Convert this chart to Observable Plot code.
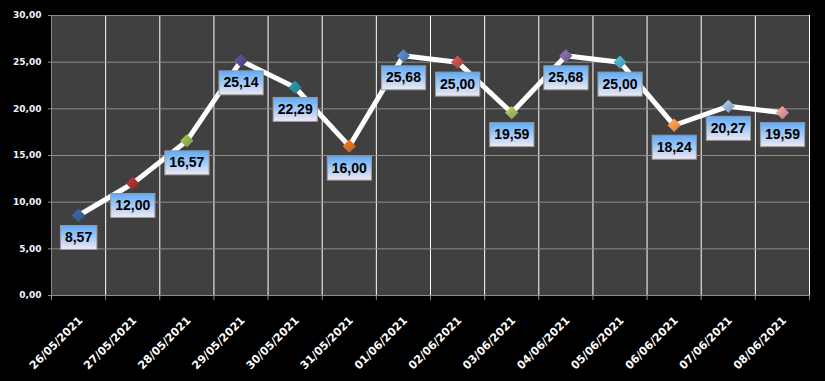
<!DOCTYPE html>
<html><head><meta charset="utf-8">
<script src="https://cdn.jsdelivr.net/npm/d3@7"></script>
<script src="https://cdn.jsdelivr.net/npm/@observablehq/plot@0.6"></script>
<style>
html,body{margin:0;padding:0;background:#000;}
#chart{width:825px;height:381px;overflow:hidden;}
</style></head><body><div id="chart"></div>
<script>
const dates = ["26/05/2021","27/05/2021","28/05/2021","29/05/2021","30/05/2021","31/05/2021","01/06/2021","02/06/2021","03/06/2021","04/06/2021","05/06/2021","06/06/2021","07/06/2021","08/06/2021"];
const values = [8.57, 12.00, 16.57, 25.14, 22.29, 16.00, 25.68, 25.00, 19.59, 25.68, 25.00, 18.24, 20.27, 19.59];
const markerColors = ["#34619e","#a3302c","#8fb04c","#5e4889","#2c8aa3","#e0701e","#4f81bd","#c0504d","#9bbb59","#8064a2","#4bacc6","#f79646","#95b3d7","#d99694"];
const yTicks = [0, 5, 10, 15, 20, 25, 30];

const fmt = v => v.toFixed(2).replace(".", ",");
const data = dates.map((d, i) => ({date: d, i: i + 0.5, value: values[i], color: markerColors[i], label: fmt(values[i])}));

const plot = Plot.plot({
  width: 825, height: 381,
  marginLeft: 51, marginRight: 16, marginTop: 15, marginBottom: 86,
  style: {background: "#000", overflow: "visible"},
  x: {type: "linear", domain: [0, dates.length], axis: null, label: null},
  y: {domain: [0, 30], axis: null, label: null},
  color: {type: "identity"},
  marks: [
    Plot.frame({fill: "#404040"}),
    Plot.ruleX(d3.range(1, dates.length + 1), {stroke: "#ffffff", strokeWidth: 1}),
    Plot.ruleY(yTicks, {stroke: "#8c8c8c"}),
    Plot.ruleX([0], {stroke: "#8c8c8c"}),
    Plot.axisY({ticks: yTicks, tickFormat: fmt, label: null, tickSize: 3, tickPadding: 7, stroke: "#8c8c8c", fill: "#eef4ff", fontSize: 9, fontWeight: "bold", fontFamily: "DejaVu Sans"}),
    Plot.axisX({ticks: d3.range(0, dates.length + 1), tickFormat: () => "", label: null, tickSize: 5, stroke: "#8c8c8c"}),
    Plot.axisX({ticks: data.map(d => d.i), tickFormat: v => dates[Math.floor(v)], label: null, tickSize: 0, tickPadding: 23, dx: 2, tickRotate: -45, fill: "#ffffff", fontSize: 11, fontWeight: "bold", fontFamily: "DejaVu Sans"}),
    Plot.line(data, {x: "i", y: "value", stroke: "#ffffff", strokeWidth: 5, strokeLinejoin: "miter"}),
    Plot.dot(data, {x: "i", y: "value", symbol: "diamond2", r: 6, fill: d => d.color, stroke: "none"}),
    Plot.text(data, {x: "i", y: "value", text: "label", dy: 22, fill: "#000", fontSize: 14, fontWeight: "bold", fontFamily: "Liberation Sans"})
  ]
});
document.getElementById("chart").append(plot);

const svg = d3.select(plot);
const defs = svg.insert("defs", ":first-child");
// label box gradient
const grad = defs.append("linearGradient").attr("id", "lblgrad").attr("x1", 0).attr("y1", 0).attr("x2", 0).attr("y2", 1);
grad.append("stop").attr("offset", "0%").attr("stop-color", "#5eabf8");
grad.append("stop").attr("offset", "55%").attr("stop-color", "#a9cdf6");
grad.append("stop").attr("offset", "100%").attr("stop-color", "#f1e9f5");

// shaded markers
svg.selectAll('g[aria-label="dot"] path').each(function(_, k) {
  const c = d3.color(this.getAttribute("fill"));
  if (!c) return;
  const id = "mk" + k;
  const g = defs.append("linearGradient").attr("id", id).attr("x1", 0).attr("y1", 0).attr("x2", 1).attr("y2", 1);
  g.append("stop").attr("offset", "0%").attr("stop-color", c.brighter(0.5).formatHex());
  g.append("stop").attr("offset", "50%").attr("stop-color", c.formatHex());
  g.append("stop").attr("offset", "100%").attr("stop-color", c.darker(0.5).formatHex());
  this.setAttribute("fill", `url(#${id})`);
});

// boxes behind data labels
svg.selectAll('g[aria-label="text"] text').each(function() {
  const b = this.getBBox();
  const cx = b.x + b.width / 2, cy = b.y + b.height / 2;
  const w = b.width + 9, h = 24;
  const r = document.createElementNS("http://www.w3.org/2000/svg", "rect");
  r.setAttribute("x", cx - w / 2);
  r.setAttribute("y", cy - h / 2 + 0.5);
  r.setAttribute("width", w);
  r.setAttribute("height", h);
  r.setAttribute("fill", "url(#lblgrad)");
  r.setAttribute("stroke", "#9a9a9a");
  r.setAttribute("stroke-width", 1);
  const t = this.getAttribute("transform");
  if (t) r.setAttribute("transform", t);
  this.parentNode.insertBefore(r, this);
});
</script>
</body></html>
